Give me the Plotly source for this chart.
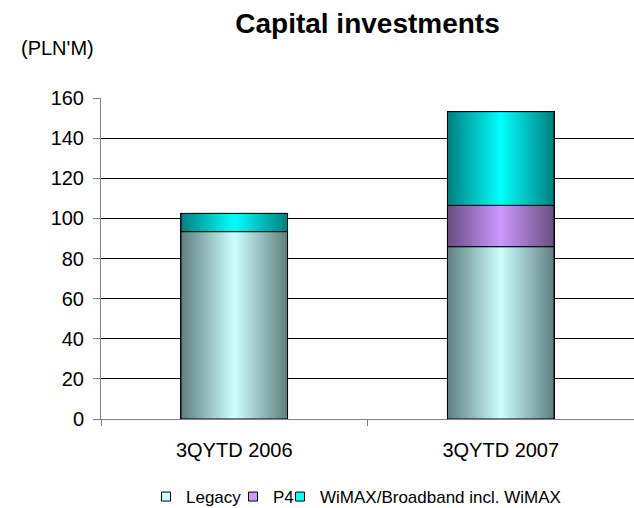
import plotly.graph_objects as go

# Capital investments by period (PLN'M)
categories = ["3QYTD 2006", "3QYTD 2007"]
legacy = [93.4, 85.9]
p4 = [0.0, 20.6]
wimax = [9.1, 46.7]

series_names = ["Legacy", "P4", "WiMAX/Broadband incl. WiMAX"]
series_values = [legacy, p4, wimax]
solid_colors = ["#ccffff", "#cc99ff", "#00ffff"]
edge_colors = ["#5f7f7f", "#664d80", "#007f7f"]
legend_ids = ["legend", "legend2", "legend3"]

bar_width = 0.4
x_pos = list(range(len(categories)))

fig = go.Figure()

# Stacked bars (solid base fill)
for name, vals, col in zip(series_names, series_values, solid_colors):
    fig.add_trace(go.Bar(
        x=x_pos, y=vals, name=name, width=bar_width, showlegend=False,
        marker=dict(color=col, line=dict(color="#000000", width=1)),
        hoverinfo="skip",
    ))

# Cylinder-style horizontal shading on each stacked segment
base = [0.0] * len(categories)
for name, vals, mid, edge in zip(series_names, series_values, solid_colors, edge_colors):
    for i, v in enumerate(vals):
        b0, b1 = base[i], base[i] + v
        if v > 0:
            x0, x1 = x_pos[i] - bar_width / 2, x_pos[i] + bar_width / 2
            fig.add_trace(go.Scatter(
                x=[x0, x1, x1, x0, x0], y=[b0, b0, b1, b1, b0],
                mode="lines", fill="toself",
                line=dict(color="#000000", width=1),
                fillgradient=dict(
                    type="horizontal",
                    colorscale=[[0, edge], [0.5, mid], [1, edge]],
                ),
                showlegend=False, hoverinfo="skip",
            ))
        base[i] = b1

# Legend keys: small bordered squares, one legend box per series
for name, col, lg in zip(series_names, solid_colors, legend_ids):
    fig.add_trace(go.Scatter(
        x=[None], y=[None], mode="markers", name=name, legend=lg,
        marker=dict(symbol="square", size=9, color=col,
                    line=dict(color="#000000", width=1)),
        hoverinfo="skip",
    ))

W, H = 634, 508
PLOT_H = H - 98 - 89
FONT = "Liberation Sans, Arial, sans-serif"


def legend_box(left_px):
    return dict(
        orientation="h", x=left_px / W, xref="container", xanchor="left",
        y=1 - 497 / H, yref="container", yanchor="middle",
        font=dict(size=17), itemwidth=30,
        bgcolor="rgba(0,0,0,0)", borderwidth=0,
    )


fig.update_layout(
    barmode="stack",
    width=W, height=H,
    margin=dict(l=101, r=0, t=98, b=89),
    paper_bgcolor="white", plot_bgcolor="white",
    font=dict(family=FONT, color="#000000", size=20),
    title=dict(
        text="<b>Capital investments</b>",
        x=0.5, xref="paper", xanchor="center",
        y=1 - 23 / H, yref="container", yanchor="middle",
        font=dict(size=28, family=FONT),
    ),
    showlegend=True,
    legend=legend_box(146),
    legend2=legend_box(233),
    legend3=legend_box(280),
    annotations=[dict(
        text="(PLN'M)", xref="paper", yref="paper",
        x=(19 - 101) / 533, y=(419 - 48) / PLOT_H,
        xanchor="left", yanchor="middle", showarrow=False,
        font=dict(size=20),
    )],
)

fig.update_xaxes(
    range=[-0.5, 1.5],
    tickmode="array", tickvals=x_pos, ticktext=categories,
    ticks="", showgrid=False, zeroline=False,
    showline=True, linecolor="#808080", linewidth=1,
    minor=dict(ticks="outside", tick0=0.5, dtick=1, ticklen=6,
               tickcolor="#808080", showgrid=False),
    ticklabelstandoff=13,
)
fig.update_yaxes(
    range=[0, 160], dtick=20,
    showgrid=True, gridcolor="#000000", gridwidth=1,
    zeroline=False,
    showline=True, linecolor="#808080", linewidth=1,
    ticks="outside", ticklen=7, tickcolor="#808080",
    ticklabelstandoff=5,
)

fig.write_html("out.html")
